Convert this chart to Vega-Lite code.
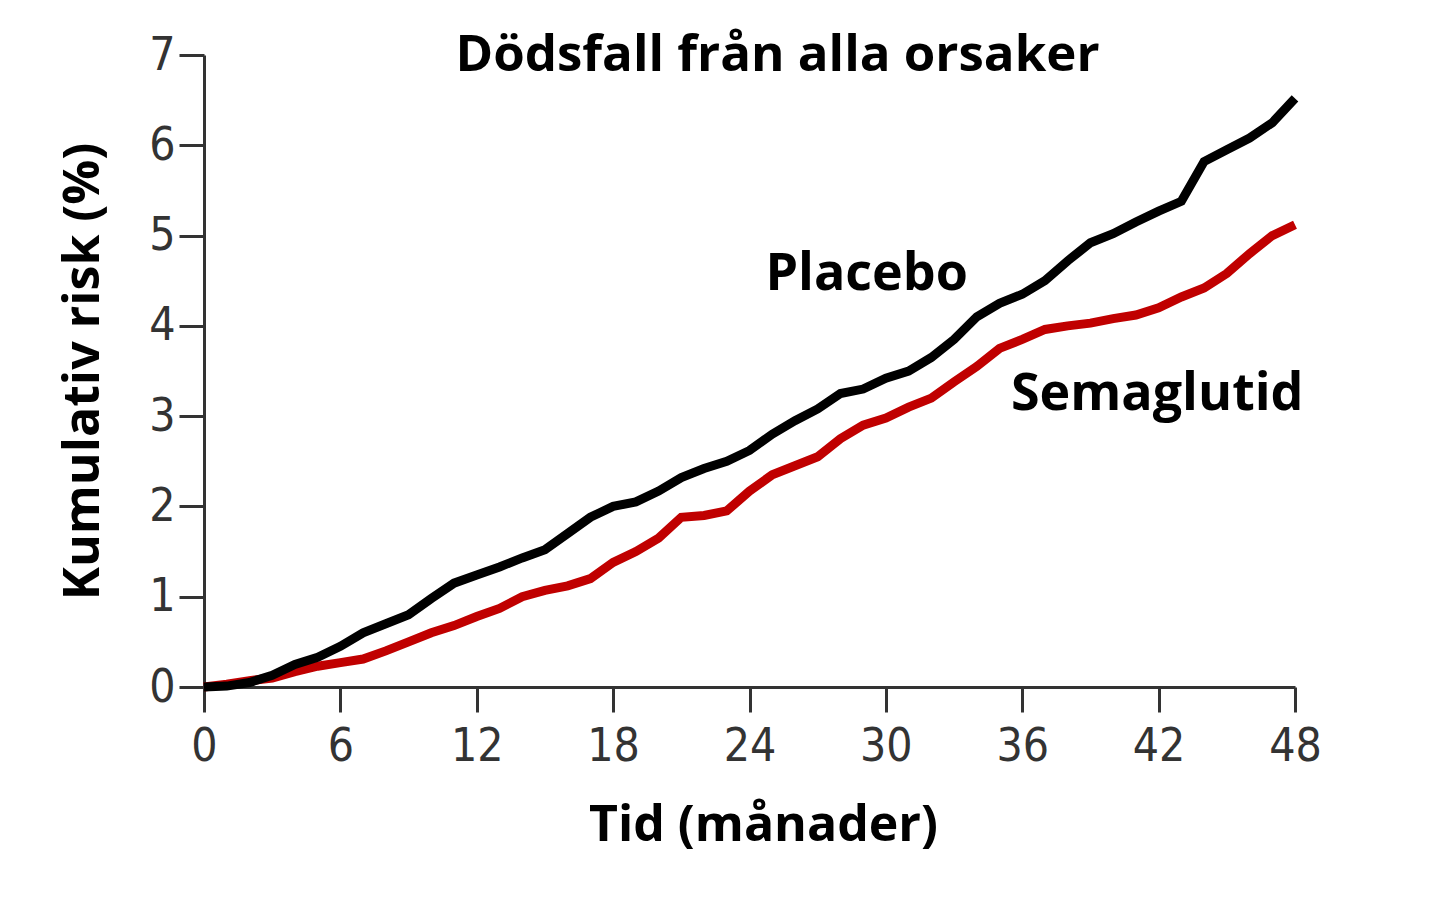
{
  "$schema": "https://vega.github.io/schema/vega-lite/v6.json",
  "description": "Kumulativ risk för dödsfall från alla orsaker, semaglutid vs placebo",
  "autosize": {"type": "none"},
  "width": 1091,
  "height": 632,
  "padding": {"left": 204, "top": 55, "right": 145, "bottom": 235},
  "background": "white",
  "title": {
    "text": "Dödsfall från alla orsaker",
    "font": "Open Sans",
    "fontSize": 51,
    "fontWeight": "bold",
    "color": "black",
    "anchor": "middle",
    "dx": 28,
    "offset": -50
  },
  "config": {
    "view": {"stroke": null},
    "axis": {
      "grid": false,
      "domainColor": "#333",
      "domainWidth": 3,
      "tickColor": "#333",
      "tickWidth": 3,
      "tickSize": 25,
      "labelFont": "DejaVu Sans Condensed, Liberation Sans, sans-serif",
      "labelFontSize": 46,
      "labelColor": "#333",
      "labelFlush": false,
      "format": "d",
      "titleFont": "Open Sans",
      "titleFontSize": 50,
      "titleFontWeight": "bold",
      "titleColor": "black"
    }
  },
  "datasets": {
    "risk": [
      {"grupp": "Semaglutid", "m": 0, "risk": 0},
      {"grupp": "Semaglutid", "m": 1, "risk": 0.03},
      {"grupp": "Semaglutid", "m": 2, "risk": 0.07},
      {"grupp": "Semaglutid", "m": 3, "risk": 0.1},
      {"grupp": "Semaglutid", "m": 4, "risk": 0.17},
      {"grupp": "Semaglutid", "m": 5, "risk": 0.23},
      {"grupp": "Semaglutid", "m": 6, "risk": 0.27},
      {"grupp": "Semaglutid", "m": 7, "risk": 0.31},
      {"grupp": "Semaglutid", "m": 8, "risk": 0.4},
      {"grupp": "Semaglutid", "m": 9, "risk": 0.5},
      {"grupp": "Semaglutid", "m": 10, "risk": 0.6},
      {"grupp": "Semaglutid", "m": 11, "risk": 0.68},
      {"grupp": "Semaglutid", "m": 12, "risk": 0.78},
      {"grupp": "Semaglutid", "m": 13, "risk": 0.87},
      {"grupp": "Semaglutid", "m": 14, "risk": 1.0},
      {"grupp": "Semaglutid", "m": 15, "risk": 1.07},
      {"grupp": "Semaglutid", "m": 16, "risk": 1.12},
      {"grupp": "Semaglutid", "m": 17, "risk": 1.2},
      {"grupp": "Semaglutid", "m": 18, "risk": 1.38},
      {"grupp": "Semaglutid", "m": 19, "risk": 1.5},
      {"grupp": "Semaglutid", "m": 20, "risk": 1.65},
      {"grupp": "Semaglutid", "m": 21, "risk": 1.88},
      {"grupp": "Semaglutid", "m": 22, "risk": 1.9},
      {"grupp": "Semaglutid", "m": 23, "risk": 1.95},
      {"grupp": "Semaglutid", "m": 24, "risk": 2.17},
      {"grupp": "Semaglutid", "m": 25, "risk": 2.35},
      {"grupp": "Semaglutid", "m": 26, "risk": 2.45},
      {"grupp": "Semaglutid", "m": 27, "risk": 2.55},
      {"grupp": "Semaglutid", "m": 28, "risk": 2.75},
      {"grupp": "Semaglutid", "m": 29, "risk": 2.9},
      {"grupp": "Semaglutid", "m": 30, "risk": 2.98},
      {"grupp": "Semaglutid", "m": 31, "risk": 3.1},
      {"grupp": "Semaglutid", "m": 32, "risk": 3.2},
      {"grupp": "Semaglutid", "m": 33, "risk": 3.38},
      {"grupp": "Semaglutid", "m": 34, "risk": 3.55},
      {"grupp": "Semaglutid", "m": 35, "risk": 3.75},
      {"grupp": "Semaglutid", "m": 36, "risk": 3.85},
      {"grupp": "Semaglutid", "m": 37, "risk": 3.96},
      {"grupp": "Semaglutid", "m": 38, "risk": 4.0},
      {"grupp": "Semaglutid", "m": 39, "risk": 4.03},
      {"grupp": "Semaglutid", "m": 40, "risk": 4.08},
      {"grupp": "Semaglutid", "m": 41, "risk": 4.12},
      {"grupp": "Semaglutid", "m": 42, "risk": 4.2},
      {"grupp": "Semaglutid", "m": 43, "risk": 4.32},
      {"grupp": "Semaglutid", "m": 44, "risk": 4.42},
      {"grupp": "Semaglutid", "m": 45, "risk": 4.58},
      {"grupp": "Semaglutid", "m": 46, "risk": 4.8},
      {"grupp": "Semaglutid", "m": 47, "risk": 5.0},
      {"grupp": "Semaglutid", "m": 48, "risk": 5.12},
      {"grupp": "Placebo", "m": 0, "risk": 0},
      {"grupp": "Placebo", "m": 1, "risk": 0.01},
      {"grupp": "Placebo", "m": 2, "risk": 0.05},
      {"grupp": "Placebo", "m": 3, "risk": 0.13},
      {"grupp": "Placebo", "m": 4, "risk": 0.25},
      {"grupp": "Placebo", "m": 5, "risk": 0.33},
      {"grupp": "Placebo", "m": 6, "risk": 0.45},
      {"grupp": "Placebo", "m": 7, "risk": 0.6},
      {"grupp": "Placebo", "m": 8, "risk": 0.7},
      {"grupp": "Placebo", "m": 9, "risk": 0.8},
      {"grupp": "Placebo", "m": 10, "risk": 0.98},
      {"grupp": "Placebo", "m": 11, "risk": 1.15},
      {"grupp": "Placebo", "m": 12, "risk": 1.24},
      {"grupp": "Placebo", "m": 13, "risk": 1.33},
      {"grupp": "Placebo", "m": 14, "risk": 1.43},
      {"grupp": "Placebo", "m": 15, "risk": 1.52},
      {"grupp": "Placebo", "m": 16, "risk": 1.7},
      {"grupp": "Placebo", "m": 17, "risk": 1.88},
      {"grupp": "Placebo", "m": 18, "risk": 2.0},
      {"grupp": "Placebo", "m": 19, "risk": 2.05},
      {"grupp": "Placebo", "m": 20, "risk": 2.17},
      {"grupp": "Placebo", "m": 21, "risk": 2.32},
      {"grupp": "Placebo", "m": 22, "risk": 2.42},
      {"grupp": "Placebo", "m": 23, "risk": 2.5},
      {"grupp": "Placebo", "m": 24, "risk": 2.62},
      {"grupp": "Placebo", "m": 25, "risk": 2.8},
      {"grupp": "Placebo", "m": 26, "risk": 2.95},
      {"grupp": "Placebo", "m": 27, "risk": 3.08},
      {"grupp": "Placebo", "m": 28, "risk": 3.25},
      {"grupp": "Placebo", "m": 29, "risk": 3.3},
      {"grupp": "Placebo", "m": 30, "risk": 3.42},
      {"grupp": "Placebo", "m": 31, "risk": 3.5},
      {"grupp": "Placebo", "m": 32, "risk": 3.65},
      {"grupp": "Placebo", "m": 33, "risk": 3.85},
      {"grupp": "Placebo", "m": 34, "risk": 4.1},
      {"grupp": "Placebo", "m": 35, "risk": 4.25},
      {"grupp": "Placebo", "m": 36, "risk": 4.35},
      {"grupp": "Placebo", "m": 37, "risk": 4.5},
      {"grupp": "Placebo", "m": 38, "risk": 4.72},
      {"grupp": "Placebo", "m": 39, "risk": 4.92},
      {"grupp": "Placebo", "m": 40, "risk": 5.02},
      {"grupp": "Placebo", "m": 41, "risk": 5.15},
      {"grupp": "Placebo", "m": 42, "risk": 5.27},
      {"grupp": "Placebo", "m": 43, "risk": 5.38},
      {"grupp": "Placebo", "m": 44, "risk": 5.82},
      {"grupp": "Placebo", "m": 45, "risk": 5.95},
      {"grupp": "Placebo", "m": 46, "risk": 6.08},
      {"grupp": "Placebo", "m": 47, "risk": 6.25},
      {"grupp": "Placebo", "m": 48, "risk": 6.52}
    ],
    "etiketter": [
      {"text": "Placebo", "m": 24.7, "risk": 4.4},
      {"text": "Semaglutid", "m": 35.5, "risk": 3.07}
    ]
  },
  "layer": [
    {
      "data": {"name": "risk"},
      "mark": {"type": "line", "strokeWidth": 9, "strokeJoin": "miter", "clip": false},
      "encoding": {
        "x": {
          "field": "m",
          "type": "quantitative",
          "scale": {"domain": [0, 48], "nice": false},
          "axis": {
            "values": [0, 6, 12, 18, 24, 30, 36, 42, 48],
            "labelPadding": 12,
            "title": "Tid (månader)",
            "titlePadding": 31,
            "titleX": 559
          }
        },
        "y": {
          "field": "risk",
          "type": "quantitative",
          "scale": {"domain": [0, 7], "nice": false},
          "axis": {
            "values": [0, 1, 2, 3, 4, 5, 6, 7],
            "labelPadding": 4,
            "title": "Kumulativ risk (%)",
            "titlePadding": 40
          }
        },
        "color": {
          "field": "grupp",
          "type": "nominal",
          "scale": {"domain": ["Semaglutid", "Placebo"], "range": ["#c00000", "#000000"]},
          "legend": null
        }
      }
    },
    {
      "data": {"name": "etiketter"},
      "mark": {
        "type": "text",
        "align": "left",
        "baseline": "alphabetic",
        "font": "Open Sans",
        "fontSize": 52,
        "fontWeight": "bold",
        "letterSpacing": 0.5,
        "color": "black"
      },
      "encoding": {
        "x": {"field": "m", "type": "quantitative"},
        "y": {"field": "risk", "type": "quantitative"},
        "text": {"field": "text"}
      }
    }
  ]
}
